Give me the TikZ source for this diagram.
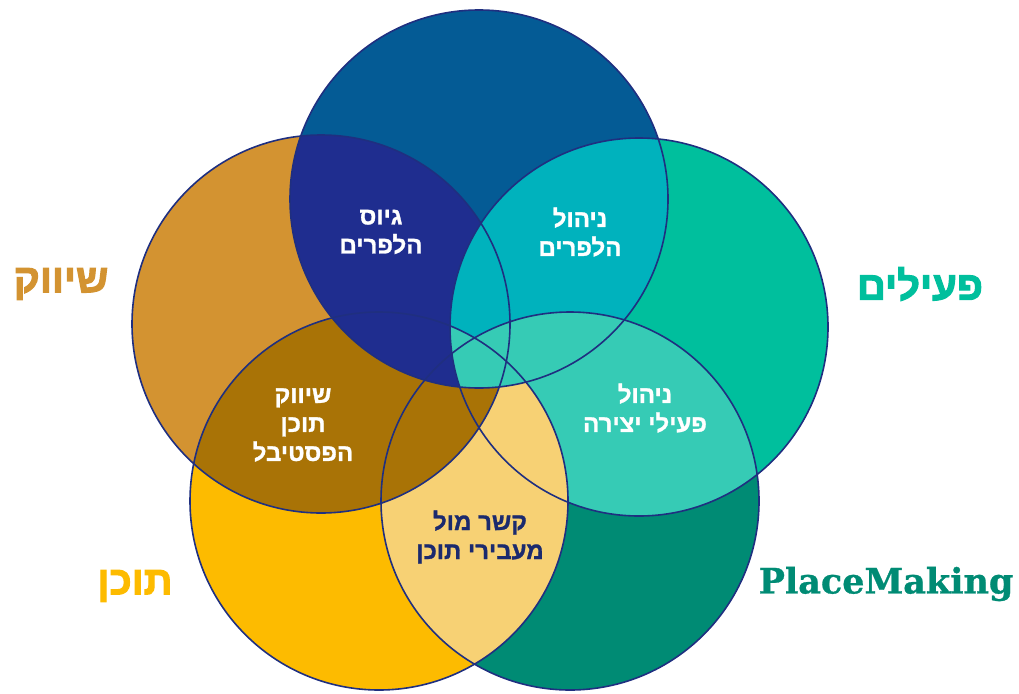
\documentclass[tikz,border=0pt]{standalone}
\usepackage{fontspec}
\TeXXeTstate=1
\newfontfamily\heb[Script=Hebrew, BoldFeatures={FakeBold=1.2}]{Liberation Sans}
\newfontfamily\hebheavy[Script=Hebrew, BoldFeatures={FakeBold=2.6}]{Liberation Sans}
\newfontfamily\slab[BoldFeatures={FakeBold=0.8}]{DejaVu Serif}
\definecolor{cTop}{HTML}{045B95}
\definecolor{cLeft}{HTML}{D39331}
\definecolor{cRight}{HTML}{00BF9D}
\definecolor{cBL}{HTML}{FDBB00}
\definecolor{cBR}{HTML}{008B74}
\definecolor{cNavy}{HTML}{1F2D8F}
\definecolor{cCyan}{HTML}{00B2BD}
\definecolor{cLTeal}{HTML}{36CBB5}
\definecolor{cLYellow}{HTML}{F7D174}
\definecolor{cBrown}{HTML}{A97306}
\definecolor{cLine}{HTML}{1F2F80}
\definecolor{cDarkText}{HTML}{1B2A6E}
\begin{document}
\begin{tikzpicture}[x=1pt,y=-1pt,
  inlabel/.style={font=\heb\bfseries\fontsize{24}{29}\selectfont, text=white, align=center, inner sep=0pt},
  outlabel/.style={font=\hebheavy\bfseries\fontsize{40}{42}\selectfont, inner sep=0pt},
  ring/.style={draw=cLine, line width=1.6pt}]
\useasboundingbox (0,0) rectangle (1019,693);
\coordinate (T) at (479,199);
\coordinate (L) at (321,324);
\coordinate (R) at (639,327);
\coordinate (BL) at (379,501);
\coordinate (BR) at (570,501);
\def\rr{189pt}
% base circles
\fill[cTop] (T) circle[radius=\rr];
\fill[cLeft] (L) circle[radius=\rr];
\fill[cRight] (R) circle[radius=\rr];
\fill[cBL] (BL) circle[radius=\rr];
\fill[cBR] (BR) circle[radius=\rr];
% overlaps
\begin{scope}\clip (R) circle[radius=\rr]; \fill[cLTeal] (BR) circle[radius=\rr];\end{scope}
\begin{scope}\clip (BL) circle[radius=\rr]; \fill[cLYellow] (BR) circle[radius=\rr];\end{scope}
\begin{scope}\clip (L) circle[radius=\rr]; \fill[cBrown] (BL) circle[radius=\rr];\end{scope}
\begin{scope}\clip (T) circle[radius=\rr]; \fill[cNavy] (L) circle[radius=\rr];\end{scope}
\begin{scope}\clip (T) circle[radius=\rr]; \fill[cCyan] (R) circle[radius=\rr];\end{scope}
\begin{scope}\clip (T) circle[radius=\rr]; \clip (R) circle[radius=\rr];
  \fill[cLTeal] (BL) circle[radius=\rr]; \fill[cLTeal] (BR) circle[radius=\rr];\end{scope}
% outlines
\foreach \c in {T,L,R,BL,BR} \draw[ring] (\c) circle[radius=\rr];
% inner labels
\node[inlabel] (a) at (381,232) {\beginR גיוס\endR\\\beginR הלפרים\endR};
\node[inlabel] (b) at (580,232) {\beginR ניהול\endR\\\beginR הלפרים\endR};
\node[inlabel] (c) at (645,408) {\beginR ניהול\endR\\\beginR פעילי יצירה\endR};
\node[inlabel] (d) at (303,425) {\beginR שיווק\endR\\\beginR תוכן\endR\\\beginR הפסטיבל\endR};
\node[inlabel, text=cDarkText] (e) at (480,537) {\beginR קשר מול\endR\\\beginR מעבירי תוכן\endR};
% outer labels
\node[outlabel, text=cLeft] (s) at (61,284) {\beginR שיווק\endR};
\node[outlabel, text=cRight] (p) at (920,284) {\beginR פעילים\endR};
\node[outlabel, text=cBL] (t) at (135,586) {\beginR תוכן\endR};
\node[font=\slab\bfseries\fontsize{35}{38}\selectfont, text=cBR, inner sep=0pt] (pm) at (886,584) {PlaceMaking};
\end{tikzpicture}
\end{document}
